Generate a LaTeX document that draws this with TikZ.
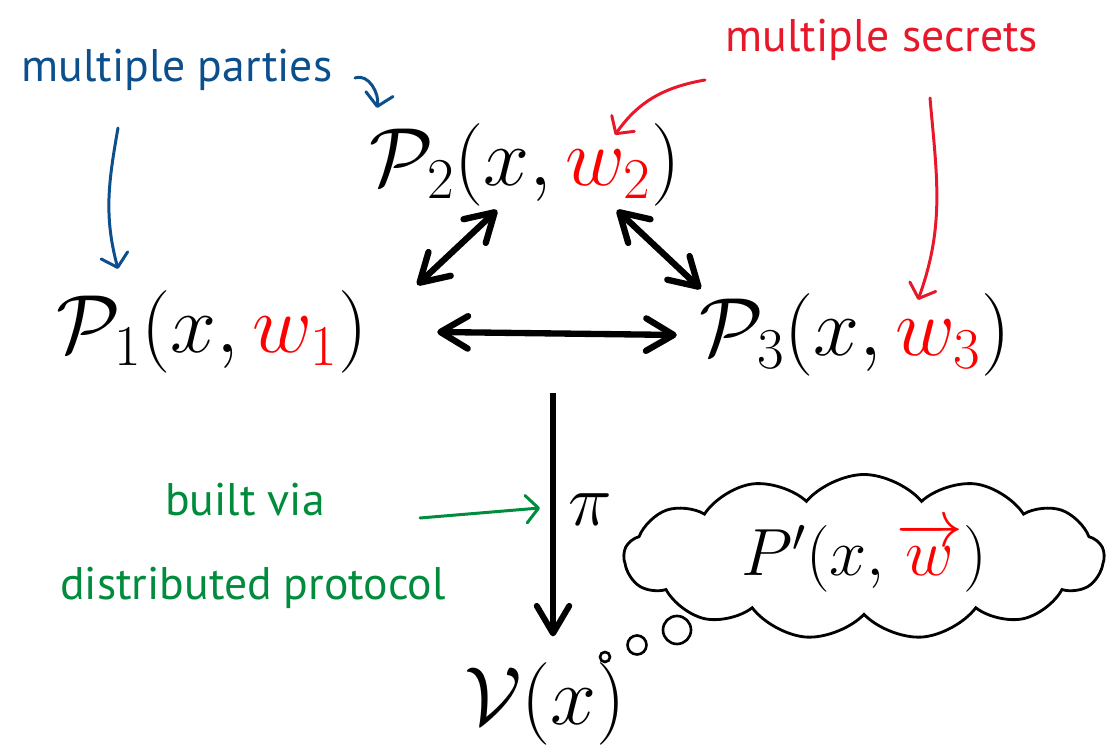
\RequirePackage{fix-cm}
\documentclass[tikz,border=0pt]{standalone}
\usepackage{fontspec}
\setsansfont{PT Sans}
\usepackage{amsmath}
\usepackage{xcolor}
\usetikzlibrary{arrows.meta,positioning,shapes.symbols,calc}
\definecolor{cblue}{RGB}{11,79,140}
\definecolor{cred}{RGB}{232,24,42}
\definecolor{cgreen}{RGB}{0,140,60}
\definecolor{sec}{RGB}{255,0,0}
\newcommand{\secr}[1]{\textcolor{sec}{#1}}

\begin{document}
\begin{tikzpicture}[
    party/.style={font=\fontsize{47}{54}\selectfont, inner sep=2pt},
    note/.style={font=\fontsize{26}{30}\selectfont\sffamily, text=#1, inner sep=1pt},
    hand/.style={-{Straight Barb[length=2.5mm,width=5.5mm,round]}, line width=1.7pt, draw=#1, line cap=round},
    dbl/.style={{Straight Barb[length=5.5mm,width=6.5mm,round]}-{Straight Barb[length=5.5mm,width=6.5mm,round]}, line width=3.6pt},
    arr/.style={-{Straight Barb[length=5.5mm,width=6.5mm,round]}, line width=3.4pt},
    bubble/.style={circle, draw, line width=1.5pt, inner sep=0pt, minimum size=#1}]

    \useasboundingbox (0,0) rectangle (22.3,14.9);

    % parties
    \node[party] (P2) at (10.5,11.6) {$\mathcal{P}_2(x,\secr{w_2})$};
    \node[party] (P1) at (4.24,8.26) {$\mathcal{P}_1(x,\secr{w_1})$};
    \node[party] (P3) at (17.1,8.2) {$\mathcal{P}_3(x,\secr{w_3})$};
    \draw[dbl] ([xshift=-0.56cm]P2.south) -- ([xshift=0.92cm,yshift=0.04cm]P1.north east);
    \draw[dbl] ([xshift=1.84cm]P2.south) -- ([xshift=0.1cm,yshift=0.02cm]P3.north west);
    \draw[dbl] ([xshift=1.32cm]P1.east) -- ([xshift=-0.38cm]P3.west);

    % verifier
    \node[party] (V) at (10.9,0.82) {$\mathcal{V}(x)$};
    \coordinate (ptop) at (11.06,7.04);
    \draw[arr] (ptop) -- ([yshift=0.45cm]ptop |- V.north);
    \node[party, font=\fontsize{42}{48}\selectfont] (pi) at (11.8,4.7) {$\pi$};

    % thought cloud
    \node[cloud, draw, line width=1.6pt, cloud puffs=13, cloud puff arc=100, aspect=2.9,
          minimum width=9.6cm, minimum height=3.3cm, inner sep=0pt,
          font=\fontsize{38}{44}\selectfont] (think) at (17.28,3.76) {$P'(x,\secr{\overrightarrow{w}})$};
    \node[bubble=0.56cm] (b1) at (13.54,2.3) {};
    \node[bubble=0.38cm] (b2) at (12.74,2.0) {};
    \node[bubble=0.2cm] (b3) at (12.1,1.76) {};

    % annotations
    \node[note=cblue] (parties) at (3.54,13.5) {multiple parties};
    \coordinate (bp0) at (7.1,13.34);
    \coordinate (bl0) at (2.36,12.34);
    \draw[hand=cblue] (bp0) to[out=20,in=80] ([xshift=-2.96cm,yshift=0.24cm]P2.north);
    \draw[hand=cblue] (bl0) to[out=-100,in=105] ([xshift=-1.88cm,yshift=0.36cm]P1.north);

    \node[note=cred] (secrets) at (17.64,14.1) {multiple secrets};
    \coordinate (rs0) at (14.1,13.3);
    \coordinate (rl0) at (18.6,12.94);
    \draw[hand=cred] (rs0) to[out=190,in=55] ([xshift=1.8cm,yshift=-0.3cm]P2.north);
    \draw[hand=cred] (rl0) to[out=-85,in=70] ([xshift=1.26cm,yshift=-0.2cm]P3.north);

    \node[note=cgreen] (built) at (4.9,4.9) {built via};
    \node[note=cgreen] (proto) at (5.06,3.14) {distributed protocol};
    \coordinate (g0) at (8.4,4.54);
    \coordinate (g1) at (10.8,4.74);
    \draw[hand=cgreen] (g0) -- (g1);
\end{tikzpicture}
\end{document}
